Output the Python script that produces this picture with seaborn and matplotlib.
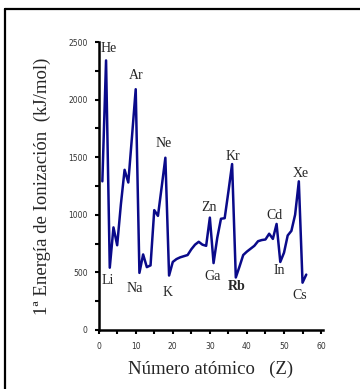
#!/usr/bin/env python3
"""
First ionization energy vs atomic number.
"""

import matplotlib
matplotlib.use("Agg")
import matplotlib.pyplot as plt
from matplotlib.lines import Line2D
from matplotlib.ticker import MultipleLocator
import seaborn as sns

# atomic number Z = 1..56
atomic_number = list(range(1, 57))
energy = [
    1290, 2340, 540, 890, 735, 1090, 1390, 1280, 1680, 2090,
    495, 655, 545, 560, 1040, 990, 1240, 1495,
    472, 590, 615, 630, 640, 650, 700, 740, 765, 740, 730, 975,
    580, 800, 965, 970, 1200, 1440,
    455, 550, 650, 680, 705, 730, 770, 780, 785, 835, 790, 920,
    590, 670, 820, 860, 1000, 1290,
    410, 480,
]

element_labels = ["He", "Ar", "Ne", "Kr", "Xe", "Li", "Na", "K",
                  "Zn", "Ga", "Rb", "Cd", "In", "Cs"]

y_ticks = [0, 500, 1000, 1500, 2000, 2500]
x_ticks = [0, 10, 20, 30, 40, 50, 60]

sns.set_style("ticks")
plt.rcParams['font.family'] = ['Liberation Serif', 'DejaVu Serif']

fig = plt.figure(figsize=(3.6, 3.89), dpi=100)
ax = fig.add_axes([0.274, 0.152, 0.623, 0.740])

sns.lineplot(x=atomic_number, y=energy, ax=ax, color='#0a0a8a',
             linewidth=1.8, estimator=None)

ax.set_xlim(0, 60.5)
ax.set_ylim(0, 2500)
ax.set_xticks(x_ticks)
ax.set_yticks(y_ticks)
ax.xaxis.set_minor_locator(MultipleLocator(5))
ax.yaxis.set_minor_locator(MultipleLocator(250))
ax.tick_params(which='both', direction='out', length=3, width=1.5,
               color='black')
ax.tick_params(axis='y', which='major', pad=5)
ax.tick_params(axis='x', which='major', pad=6)
for lab in ax.get_xticklabels() + ax.get_yticklabels():
    lab.set_family('DejaVu Sans')
    lab.set_fontsize(5.5)
    lab.set_color('#333333')

for side in ['top', 'right']:
    ax.spines[side].set_visible(False)
for side in ['left', 'bottom']:
    ax.spines[side].set_linewidth(1.8)
    ax.spines[side].set_color('black')

ax.set_xlabel("Número atómico   (Z)", fontsize=13.5, labelpad=7)
ax.set_ylabel("1ª Energía de Ionización  (kJ/mol)", fontsize=13.5,
              labelpad=12)

# where each element name sits (data coords, baseline)
label_pos = [(2.75, 2411), (10.1, 2176), (17.5, 1589), (36.2, 1475),
             (54.6, 1332), (2.4, 395), (9.8, 329), (18.7, 292),
             (29.9, 1031), (30.6, 430), (37.1, 349), (47.4, 959),
             (48.6, 487), (54.3, 266)]
for name, (lx, ly) in zip(element_labels, label_pos):
    ax.text(lx, ly, name, ha='center', va='baseline', fontsize=10,
            fontweight='bold' if name == 'Rb' else 'normal')

# outer frame (only top and left edges visible)
fx = 4.7 / 360
fy = 1 - 9 / 389
fig.add_artist(Line2D([fx, fx], [0, fy], color='black', linewidth=1.6,
                      transform=fig.transFigure))
fig.add_artist(Line2D([fx, 1], [fy, fy], color='black', linewidth=1.6,
                      transform=fig.transFigure))

fig.savefig("out.png", dpi=100)
plt.close(fig)
